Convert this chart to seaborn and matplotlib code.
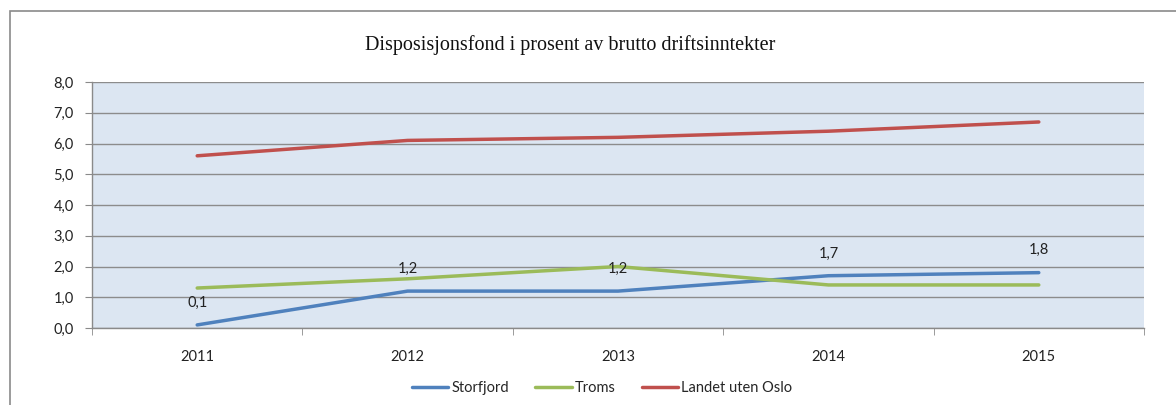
import matplotlib.pyplot as plt
import pandas as pd
import seaborn as sns
from matplotlib.patches import Rectangle

# Data
years = ['2011', '2012', '2013', '2014', '2015']
storfjord = [0.1, 1.2, 1.2, 1.7, 1.8]
troms = [1.3, 1.6, 2.0, 1.4, 1.4]
landet = [5.6, 6.1, 6.2, 6.4, 6.7]
series_names = ['Storfjord', 'Troms', 'Landet uten Oslo']
colors = ['#4F81BD', '#9BBB59', '#C0504D']

df = pd.DataFrame({
    'pos': list(range(len(years))) * 3,
    'value': storfjord + troms + landet,
    'serie': [s for s in series_names for _ in years],
})

sns.set_style('white')
plt.rcParams['font.family'] = ['Lato', 'DejaVu Sans']

fig = plt.figure(figsize=(11.76, 4.05), dpi=100)
ax = fig.add_axes([92 / 1176, 1 - 328 / 405, 1052 / 1176, 246 / 405])

# outer chart border (cut off at right and bottom)
fig.patches.append(Rectangle((10 / 1176, -0.1), 1.2, 1.1 - 11 / 405,
                             transform=fig.transFigure, fill=False,
                             edgecolor='#8a8a8a', linewidth=1.2, zorder=0))

ax.set_facecolor('#DCE6F2')
sns.lineplot(data=df, x='pos', y='value', hue='serie', hue_order=series_names,
             palette=colors, linewidth=2.5, ax=ax, legend=False)

# data labels on Storfjord
for i, v in enumerate(storfjord):
    ax.annotate(f'{v:.1f}'.replace('.', ','), (i, v), xytext=(0, 11),
                textcoords='offset points', ha='center', va='bottom',
                fontsize=10.5, color='#222222')

ax.set_xlim(-0.5, len(years) - 0.5)
ax.set_ylim(0, 8)
ax.set_yticks(range(0, 9))
ax.set_yticklabels([f'{v:.1f}'.replace('.', ',') for v in range(0, 9)])
ax.set_xticks(range(len(years)))
ax.set_xticklabels(years)
ax.set_xticks([i - 0.5 for i in range(len(years) + 1)], minor=True)
ax.tick_params(axis='x', which='major', length=0, pad=16, labelsize=10.5, colors='#222222')
ax.tick_params(axis='x', which='minor', length=5, color='#8a8a8a', bottom=True)
ax.tick_params(axis='y', length=5, left=True, labelsize=10.5, colors='#222222', pad=8)
ax.tick_params(axis='y', which='major', color='#8a8a8a')
ax.yaxis.grid(True, color='#8c8c8c', linewidth=1)
ax.set_axisbelow(True)
for side in ['top', 'right']:
    ax.spines[side].set_visible(False)
for side in ['left', 'bottom']:
    ax.spines[side].set_color('#8a8a8a')
    ax.spines[side].set_linewidth(1)
ax.set_xlabel('')
ax.set_ylabel('')

fig.text(570 / 1176, 1 - 45 / 405, 'Disposisjonsfond i prosent av brutto driftsinntekter',
         ha='center', va='center', fontsize=14.5, family='Liberation Serif', color='#111111')

handles = [plt.Line2D([], [], color=c, linewidth=2.5) for c in colors]
fig.legend(handles, series_names, loc='center', bbox_to_anchor=(602 / 1176, 1 - 388 / 405),
           ncol=3, frameon=False, fontsize=10.5, handlelength=2.5, handletextpad=0.2,
           columnspacing=1.8)

fig.savefig('out.png', dpi=100)
